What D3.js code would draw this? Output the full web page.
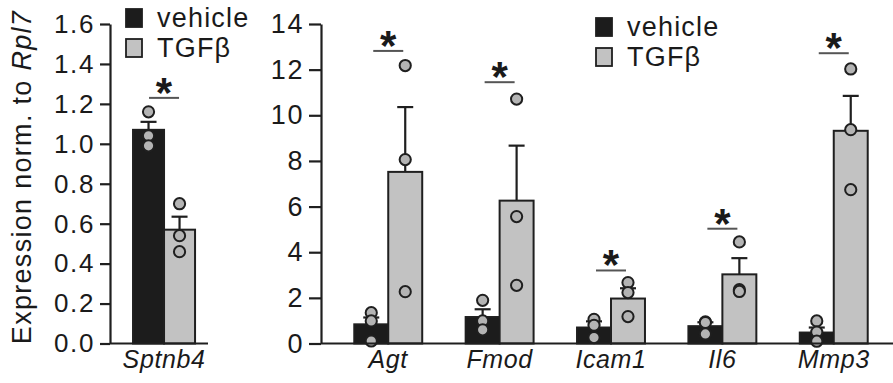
<!DOCTYPE html>
<html>
<head>
<meta charset="utf-8">
<script src="https://cdn.jsdelivr.net/npm/d3@7"></script>
<style>
  body { margin: 0; background: #fff; }
  svg text { font-family: "Liberation Sans", Arial, sans-serif; fill: #1a1a1a; }
</style>
</head>
<body>
<svg id="chart" width="893" height="383"></svg>
<script>
// groups
const groups = ["vehicle", "TGFβ"];

// left panel (Sptnb4)
const leftGene = ["Sptnb4"];
const leftMean = [[1.07, 0.57]];
const leftSem = [[0.04, 0.065]];
const leftPts = [[[1.16, 1.04, 0.99], [0.70, 0.54, 0.46]]];
const leftSig = [1.23];
const leftTicks = [0, 0.2, 0.4, 0.6, 0.8, 1.0, 1.2, 1.4, 1.6];

// right panel
const genes = ["Agt", "Fmod", "Icam1", "Il6", "Mmp3"];
const vehicleMean = [0.84, 1.16, 0.70, 0.76, 0.48];
const vehicleSem = [0.30, 0.34, 0.27, 0.17, 0.22];
const vehiclePts = [[1.35, 0.99, 0.11], [1.89, 0.99, 0.60], [1.06, 0.80, 0.26], [0.95, 0.92, 0.42], [0.99, 0.50, 0.10]];
const tgfMean = [7.52, 6.26, 1.97, 3.03, 9.32];
const tgfSem = [2.84, 2.41, 0.45, 0.71, 1.53];
const tgfPts = [[12.18, 8.06, 2.27], [10.71, 5.56, 2.55], [2.67, 2.23, 1.18], [4.45, 2.36, 2.28], [12.03, 9.37, 6.74]];
const rightSig = [12.82, 11.45, 3.2, 5.03, 12.72];
const rightTicks = [0, 2, 4, 6, 8, 10, 12, 14];

const fills = { "vehicle": "#1c1c1c", "TGFβ": "#c2c2c2" };
const ink = "#1f1f1f";

const svg = d3.select("#chart");

// draws one panel: axis, bars, error bars, dots and significance marks
function drawPanel(cfg) {
  const y = d3.scaleLinear().domain(cfg.yDomain).range([343.5, 24]);

  const x0 = d3.scaleBand()
    .domain(cfg.cats)
    .range(cfg.xRange)
    .paddingInner(cfg.padIn)
    .paddingOuter(cfg.padOut)
    .align(cfg.align);
  const x1 = d3.scaleBand().domain(groups).range([0, x0.bandwidth()]);

  const g = svg.append("g");

  // y axis
  const yAxis = g.append("g")
    .attr("transform", "translate(" + cfg.axisX + ",0)")
    .call(d3.axisLeft(y).tickValues(cfg.ticks).tickFormat(cfg.fmt).tickSize(cfg.tickLen).tickPadding(5).tickSizeOuter(0));
  yAxis.select(".domain").attr("stroke", ink).attr("stroke-width", 2.2);
  yAxis.selectAll(".tick line").attr("stroke", ink).attr("stroke-width", 2.2);
  yAxis.selectAll(".tick text")
    .style("font-size", cfg.tickFont)
    .style("letter-spacing", "1.6px")
    .attr("fill", ink);

  // rows of data
  const rows = cfg.cats.map((c, i) => groups.map((k, j) => ({
    cat: c, key: k, mean: cfg.mean[i][j], sem: cfg.sem[i][j], pts: cfg.pts[i][j]
  })));

  const gg = g.selectAll(".grp").data(rows).enter().append("g")
    .attr("transform", (d, i) => "translate(" + x0(cfg.cats[i]) + ",0)");

  const bars = gg.selectAll(".bar").data(d => d).enter().append("g");

  // error bars first so the bar cover the lower part
  bars.append("line")
    .attr("x1", d => x1(d.key) + x1.bandwidth() / 2)
    .attr("x2", d => x1(d.key) + x1.bandwidth() / 2)
    .attr("y1", d => y(d.mean))
    .attr("y2", d => y(d.mean + d.sem))
    .attr("stroke", ink).attr("stroke-width", 2.2);
  bars.append("line")
    .attr("x1", d => x1(d.key) + x1.bandwidth() / 2 - 8)
    .attr("x2", d => x1(d.key) + x1.bandwidth() / 2 + 8)
    .attr("y1", d => y(d.mean + d.sem))
    .attr("y2", d => y(d.mean + d.sem))
    .attr("stroke", ink).attr("stroke-width", 2.2);

  bars.append("rect")
    .attr("x", d => x1(d.key))
    .attr("width", x1.bandwidth())
    .attr("y", d => y(d.mean))
    .attr("height", d => y(0) - y(d.mean))
    .attr("fill", d => fills[d.key])
    .attr("stroke", ink).attr("stroke-width", 2);

  bars.selectAll("circle").data(d => d.pts.map(v => ({ v: v, key: d.key }))).enter()
    .append("circle")
    .attr("cx", d => x1(d.key) + x1.bandwidth() / 2)
    .attr("cy", d => y(d.v))
    .attr("r", 5.6)
    .attr("fill", "#b4b4b4")
    .attr("stroke", ink).attr("stroke-width", 2);

  // x baseline
  g.append("line")
    .attr("x1", cfg.axisX).attr("x2", cfg.baseEnd)
    .attr("y1", y(0)).attr("y2", y(0))
    .attr("stroke", ink).attr("stroke-width", 2.2);

  // category labels
  g.selectAll(".cat").data(cfg.cats).enter().append("text")
    .attr("x", d => x0(d) + x0.bandwidth() / 2)
    .attr("y", 368)
    .attr("text-anchor", "middle")
    .style("font-size", "25px")
    .style("font-style", "italic")
    .style("letter-spacing", "0.6px")
    .text(d => d);

  // significance marks
  cfg.cats.forEach((c, i) => {
    const cx = x0(c) + x0.bandwidth() / 2;
    g.append("line")
      .attr("x1", cx - 15).attr("x2", cx + 15)
      .attr("y1", y(cfg.sig[i])).attr("y2", y(cfg.sig[i]))
      .attr("stroke", "#555").attr("stroke-width", 2);
    g.append("text")
      .attr("x", cx).attr("y", y(cfg.sig[i]) + 9)
      .attr("text-anchor", "middle")
      .style("font-size", "42px")
      .style("font-weight", "bold")
      .text("*");
  });

  // legend
  const lg = g.append("g").attr("transform", "translate(" + cfg.legend[0] + "," + cfg.legend[1] + ")");
  groups.forEach((k, j) => {
    lg.append("rect")
      .attr("x", 0).attr("y", j * 30)
      .attr("width", 16).attr("height", 18)
      .attr("fill", fills[k])
      .attr("stroke", ink).attr("stroke-width", 1.8);
    lg.append("text")
      .attr("x", 31).attr("y", j * 30 + 18)
      .style("font-size", "27px")
      .style("letter-spacing", "1.2px")
      .text(k);
  });
}

drawPanel({
  cats: leftGene, mean: leftMean, sem: leftSem, pts: leftPts, sig: leftSig,
  yDomain: [0, 1.6], ticks: leftTicks, fmt: d3.format(".1f"),
  axisX: 110, baseEnd: 208, xRange: [110, 208], padIn: 0, padOut: 0.29, align: 0.64,
  tickLen: 10, tickFont: "26px", legend: [126, 9]
});

drawPanel({
  cats: genes,
  mean: genes.map((g, i) => [vehicleMean[i], tgfMean[i]]),
  sem: genes.map((g, i) => [vehicleSem[i], tgfSem[i]]),
  pts: genes.map((g, i) => [vehiclePts[i], tgfPts[i]]),
  sig: rightSig,
  yDomain: [0, 14], ticks: rightTicks, fmt: d3.format("d"),
  axisX: 321, baseEnd: 893, xRange: [332, 890], padIn: 0.39, padOut: 0.2, align: 0.5,
  tickLen: 12, tickFont: "27px", legend: [596, 18]
});

// y axis title
svg.append("text")
  .attr("transform", "translate(31,177) rotate(-90)")
  .attr("text-anchor", "middle")
  .style("font-size", "27px")
  .style("letter-spacing", "1.3px")
  .call(t => {
    t.append("tspan").text("Expression norm. to ");
    t.append("tspan").style("font-style", "italic").text("Rpl7");
  });
</script>
</body>
</html>
